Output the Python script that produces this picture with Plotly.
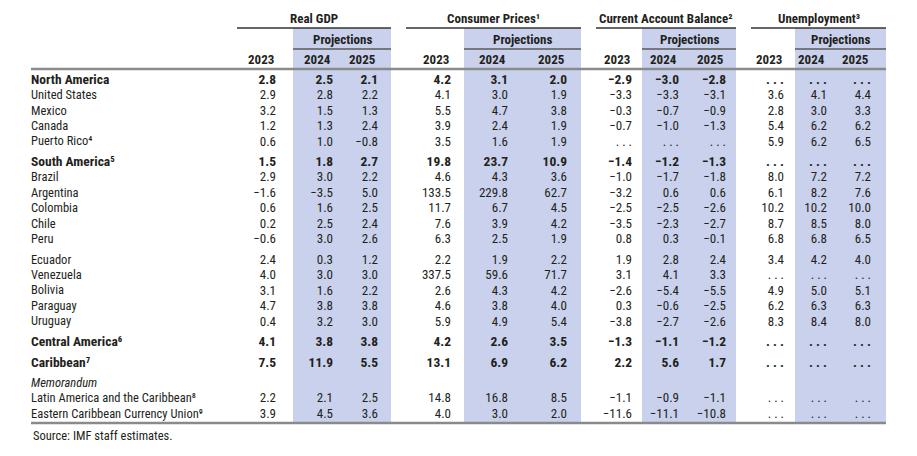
import plotly.graph_objects as go

# Row labels (superscripts are footnote markers)
labels = ["North America", "United States", "Mexico", "Canada", "Puerto Rico⁴",
          "South America⁵", "Brazil", "Argentina", "Colombia", "Chile", "Peru",
          "Ecuador", "Venezuela", "Bolivia", "Paraguay", "Uruguay",
          "Central America⁶", "Caribbean⁷", "Memorandum",
          "Latin America and the Caribbean⁸", "Eastern Caribbean Currency Union⁹"]
bold_rows = ["North America", "South America⁵", "Central America⁶", "Caribbean⁷"]
gap_rows = ["South America⁵", "Ecuador", "Central America⁶", "Caribbean⁷", "Memorandum"]

N = None  # "..." = not available
gdp_2023 = [2.8, 2.9, 3.2, 1.2, 0.6, 1.5, 2.9, -1.6, 0.6, 0.2, -0.6, 2.4, 4.0, 3.1, 4.7, 0.4, 4.1, 7.5, "", 2.2, 3.9]
gdp_2024 = [2.5, 2.8, 1.5, 1.3, 1.0, 1.8, 3.0, -3.5, 1.6, 2.5, 3.0, 0.3, 3.0, 1.6, 3.8, 3.2, 3.8, 11.9, "", 2.1, 4.5]
gdp_2025 = [2.1, 2.2, 1.3, 2.4, -0.8, 2.7, 2.2, 5.0, 2.5, 2.4, 2.6, 1.2, 3.0, 2.2, 3.8, 3.0, 3.8, 5.5, "", 2.5, 3.6]
cpi_2023 = [4.2, 4.1, 5.5, 3.9, 3.5, 19.8, 4.6, 133.5, 11.7, 7.6, 6.3, 2.2, 337.5, 2.6, 4.6, 5.9, 4.2, 13.1, "", 14.8, 4.0]
cpi_2024 = [3.1, 3.0, 4.7, 2.4, 1.6, 23.7, 4.3, 229.8, 6.7, 3.9, 2.5, 1.9, 59.6, 4.3, 3.8, 4.9, 2.6, 6.9, "", 16.8, 3.0]
cpi_2025 = [2.0, 1.9, 3.8, 1.9, 1.9, 10.9, 3.6, 62.7, 4.5, 4.2, 1.9, 2.2, 71.7, 4.2, 4.0, 5.4, 3.5, 6.2, "", 8.5, 2.0]
cab_2023 = [-2.9, -3.3, -0.3, -0.7, N, -1.4, -1.0, -3.2, -2.5, -3.5, 0.8, 1.9, 3.1, -2.6, 0.3, -3.8, -1.3, 2.2, "", -1.1, -11.6]
cab_2024 = [-3.0, -3.3, -0.7, -1.0, N, -1.2, -1.7, 0.6, -2.5, -2.3, 0.3, 2.8, 4.1, -5.4, -0.6, -2.7, -1.1, 5.6, "", -0.9, -11.1]
cab_2025 = [-2.8, -3.1, -0.9, -1.3, N, -1.3, -1.8, 0.6, -2.6, -2.7, -0.1, 2.4, 3.3, -5.5, -2.5, -2.6, -1.2, 1.7, "", -1.1, -10.8]
unemp_2023 = [N, 3.6, 2.8, 5.4, 5.9, N, 8.0, 6.1, 10.2, 8.7, 6.8, 3.4, N, 4.9, 6.2, 8.3, N, N, "", N, N]
unemp_2024 = [N, 4.1, 3.0, 6.2, 6.2, N, 7.2, 8.2, 10.2, 8.5, 6.8, 4.2, N, 5.0, 6.3, 8.4, N, N, "", N, N]
unemp_2025 = [N, 4.4, 3.3, 6.2, 6.5, N, 7.2, 7.6, 10.0, 8.0, 6.5, 4.0, N, 5.1, 6.3, 8.0, N, N, "", N, N]

groups = ["Real GDP", "Consumer Prices¹", "Current Account Balance²", "Unemployment³"]
years = ["2023", "2024", "2025"]
columns = [[gdp_2023, gdp_2024, gdp_2025], [cpi_2023, cpi_2024, cpi_2025],
           [cab_2023, cab_2024, cab_2025], [unemp_2023, unemp_2024, unemp_2025]]

# layout, in pixel coordinates of the 917x456 page (body has an 8px margin)
W, H, PAGE_MARGIN = 917, 456, 8
FONT = "Roboto Condensed, Liberation Sans Narrow, sans-serif"
INK = "#231f20"
BAND = "#c9d1ec"
left = 31
col_right = [[276, 333, 378], [451, 508, 567], [632, 679, 726], [784, 827, 871]]
group_span = [(237, 391), (406, 581), (596, 736), (751, 886)]
band_span = [(293, 391), (464, 581), (642, 736), (795, 886)]
y_group, y_line1, y_proj, y_line2, y_year, y_rule, y_bottom = 18, 28, 39, 49, 59, 69, 423

# row positions
row_y = []
y = 80.5
for i, lab in enumerate(labels):
    if i > 0:
        y += 15.45 + (5.0 if lab in gap_rows else 0)
    row_y.append(y)
is_bold = [lab in bold_rows for lab in labels]


def fmt(v, bold):
    if v == "":
        s = ""
    elif v is None:
        s = ". . ."
    else:
        s = f"{v:.1f}".replace("-", "−")
    return f"<b>{s}</b>" if bold and s else s


fig = go.Figure()

# shaded projection bands and rules
for (x0, x1) in band_span:
    fig.add_shape(type="rect", x0=x0, x1=x1, y0=y_line1, y1=y_bottom,
                  fillcolor=BAND, line_width=0, layer="below")
    fig.add_shape(type="line", x0=x0, x1=x1, y0=y_line2, y1=y_line2,
                  line=dict(color="#5a5a5a", width=1.3))
for (x0, x1) in group_span:
    fig.add_shape(type="line", x0=x0, x1=x1, y0=y_line1, y1=y_line1,
                  line=dict(color="#333333", width=1.3))
for yy in (y_rule, y_bottom):
    fig.add_shape(type="line", x0=left, x1=886, y0=yy, y1=yy,
                  line=dict(color="#8a8a8a", width=2.5))

# row labels
label_text = []
for lab in labels:
    if lab in bold_rows:
        label_text.append(f"<b>{lab}</b>")
    elif lab == "Memorandum":
        label_text.append(f"<i>{lab}</i>")
    else:
        label_text.append(lab)
fig.add_trace(go.Scatter(x=[left] * len(labels), y=row_y, text=label_text, mode="text",
                         textposition="middle right", hoverinfo="skip",
                         textfont=dict(family=FONT, color=INK,
                                       size=[13.5 if b else 12.5 for b in is_bold])))

# value columns
for g, cols in enumerate(columns):
    for k, vals in enumerate(cols):
        txt = [fmt(v, is_bold[i]) for i, v in enumerate(vals)]
        fig.add_trace(go.Scatter(x=[col_right[g][k]] * len(vals), y=row_y, text=txt,
                                 mode="text", textposition="middle left", hoverinfo="skip",
                                 textfont=dict(family=FONT, color=INK,
                                               size=[13.5 if b else 13 for b in is_bold])))

# headers
for g, name in enumerate(groups):
    fig.add_annotation(x=sum(group_span[g]) / 2, y=y_group, text=f"<b>{name}</b>",
                       showarrow=False, font=dict(family=FONT, size=13, color=INK))
    fig.add_annotation(x=sum(band_span[g]) / 2, y=y_proj, text="<b>Projections</b>",
                       showarrow=False, font=dict(family=FONT, size=13, color=INK))
    for k, yr in enumerate(years):
        fig.add_annotation(x=col_right[g][k], y=y_year, text=f"<b>{yr}</b>", xanchor="right",
                           showarrow=False, font=dict(family=FONT, size=13, color=INK))

fig.add_annotation(x=left, y=435, text="Source: IMF staff estimates.", xanchor="left",
                   showarrow=False, font=dict(family=FONT, size=12.5, color=INK))

fig.update_layout(
    width=W - PAGE_MARGIN, height=H - PAGE_MARGIN, margin=dict(l=0, r=0, t=0, b=0),
    paper_bgcolor="white", plot_bgcolor="white", showlegend=False,
    xaxis=dict(range=[PAGE_MARGIN, W], visible=False, fixedrange=True),
    yaxis=dict(range=[H, PAGE_MARGIN], visible=False, fixedrange=True),
)

fig.write_html("out.html")
